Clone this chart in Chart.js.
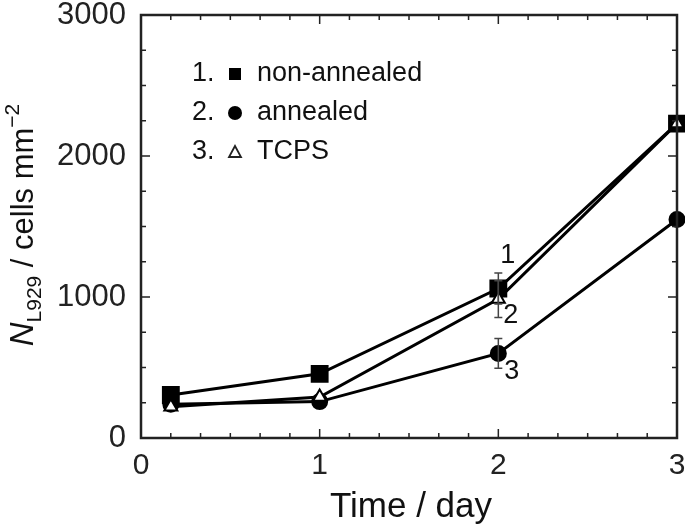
<!DOCTYPE html>
<html>
<head>
<meta charset="utf-8">
<script src="https://cdn.jsdelivr.net/npm/chart.js@4.4.1/dist/chart.umd.min.js"></script>
<style>
  html,body{margin:0;padding:0;background:#fff;overflow:hidden;}
  canvas{display:block;}
</style>
</head>
<body>
<canvas id="c" width="685" height="529" style="width:685px;height:529px"></canvas>
<script>
// time points (day)
const days = [0.167, 1, 2, 3];
// cell density, cells mm^-2
const nonAnnealed = [305, 455, 1060, 2230];
const annealed = [240, 258, 600, 1550];
const tcps = [222, 290, 985, 2230];
// error bars (+/-)
const errNon = [0, 0, 110, 0];
const errAnn = [0, 0, 105, 0];
const errTcps = [0, 0, 130, 0];

const legendRows = [
  { num: "1.", label: "non-annealed", mark: "square" },
  { num: "2.", label: "annealed", mark: "circle" },
  { num: "3.", label: "TCPS", mark: "triangle" }
];
const curveTags = ["1", "2", "3"];

const FONT = "Liberation Sans, Arial, sans-serif";
const toXY = arr => arr.map((v, i) => ({ x: days[i], y: v }));

const framePlugin = {
  id: "frame",
  afterDatasetsDraw(chart) {
    const { ctx, chartArea: a, scales: { x, y } } = chart;
    ctx.save();
    // error bars
    const errs = [errNon, errAnn, errTcps];
    ctx.strokeStyle = "#444";
    ctx.lineWidth = 1.5;
    chart.data.datasets.forEach((ds, di) => {
      ds.data.forEach((p, i) => {
        const e = errs[di][i];
        if (!e) return;
        const px = x.getPixelForValue(p.x);
        const top = y.getPixelForValue(p.y + e), bot = y.getPixelForValue(p.y - e);
        ctx.beginPath();
        ctx.moveTo(px, top); ctx.lineTo(px, bot);
        ctx.moveTo(px - 4, top); ctx.lineTo(px + 4, top);
        ctx.moveTo(px - 4, bot); ctx.lineTo(px + 4, bot);
        ctx.stroke();
      });
    });
    // frame
    ctx.strokeStyle = "#222";
    ctx.lineWidth = 2.5;
    ctx.strokeRect(a.left, a.top, a.right - a.left, a.bottom - a.top);
    // inward ticks
    ctx.lineWidth = 1.5;
    for (let v = 0; v <= 3000; v += 250) {
      const py = y.getPixelForValue(v);
      const len = v % 1000 === 0 ? 9 : 5;
      ctx.beginPath();
      ctx.moveTo(a.left, py); ctx.lineTo(a.left + len, py);
      ctx.moveTo(a.right, py); ctx.lineTo(a.right - len, py);
      ctx.stroke();
    }
    for (let k = 0; k <= 18; k++) {
      const px = x.getPixelForValue(k / 6);
      const len = k % 6 === 0 ? 9 : 5;
      ctx.beginPath();
      ctx.moveTo(px, a.bottom); ctx.lineTo(px, a.bottom - len);
      ctx.moveTo(px, a.top); ctx.lineTo(px, a.top + len);
      ctx.stroke();
    }
    // curve tags near day 2
    ctx.fillStyle = "#111";
    ctx.font = "27px " + FONT;
    ctx.textAlign = "left";
    ctx.textBaseline = "middle";
    const tagSrc = [nonAnnealed, tcps, annealed];
    const tagOff = [[2, -33], [5, 16], [6, 18]];
    tagSrc.forEach((arr, i) => {
      const px = x.getPixelForValue(days[2]) + tagOff[i][0];
      const py = y.getPixelForValue(arr[2]) + tagOff[i][1];
      ctx.fillText(curveTags[i], px, py);
    });
    // legend
    ctx.font = "27px " + FONT;
    legendRows.forEach((r, i) => {
      const yy = 74 + i * 39;
      ctx.fillStyle = "#111";
      ctx.fillText(r.num, 192, yy);
      const mx = 235;
      ctx.fillStyle = "#000";
      if (r.mark === "square") {
        ctx.fillRect(mx - 6, yy - 6, 12, 12);
      } else if (r.mark === "circle") {
        ctx.beginPath(); ctx.arc(mx, yy, 7, 0, Math.PI * 2); ctx.fill();
      } else {
        ctx.lineWidth = 1.8;
        ctx.beginPath();
        ctx.moveTo(mx, yy - 6); ctx.lineTo(mx + 6, yy + 5); ctx.lineTo(mx - 6, yy + 5); ctx.closePath();
        ctx.stroke();
      }
      ctx.fillStyle = "#111";
      ctx.fillText(r.label, 257, yy);
    });
    // axis titles
    ctx.textAlign = "center";
    ctx.textBaseline = "alphabetic";
    ctx.font = "35px " + FONT;
    ctx.fillText("Time / day", 411, 517);
    // rotated y title with sub/superscript
    ctx.translate(33, 225);
    ctx.rotate(-Math.PI / 2);
    const parts = [
      { t: "N", f: "italic 33px " + FONT, dy: 0 },
      { t: "L929", f: "21px " + FONT, dy: 8 },
      { t: " / cells mm", f: "31px " + FONT, dy: 0 },
      { t: "\u22122", f: "21px " + FONT, dy: -14 }
    ];
    let total = 0;
    parts.forEach(p => { ctx.font = p.f; p.w = ctx.measureText(p.t).width; total += p.w; });
    let cx = -total / 2;
    ctx.textAlign = "left";
    parts.forEach(p => { ctx.font = p.f; ctx.fillText(p.t, cx, p.dy); cx += p.w; });
    ctx.restore();
  }
};

const common = { borderColor: "#000", borderWidth: 3, pointBorderColor: "#000", showLine: true, tension: 0, clip: false };

new Chart(document.getElementById("c"), {
  type: "scatter",
  data: {
    datasets: [
      { ...common, label: "non-annealed", data: toXY(nonAnnealed), pointStyle: "rect", pointRadius: 10.5, pointBackgroundColor: "#000", order: 3 },
      { ...common, label: "annealed", data: toXY(annealed), pointStyle: "circle", pointRadius: 7, pointBackgroundColor: "#000", order: 2 },
      { ...common, label: "TCPS", data: toXY(tcps), pointStyle: "triangle", pointRadius: 7.5, pointBorderWidth: 2, pointBackgroundColor: "#fff", order: 1 }
    ]
  },
  options: {
    responsive: false,
    animation: false,
    layout: { autoPadding: false, padding: { top: 15, right: 8, left: 0, bottom: 0 } },
    plugins: { legend: { display: false }, tooltip: { enabled: false } },
    scales: {
      x: {
        type: "linear", min: 0, max: 3,
        grid: { display: false }, border: { display: false },
        ticks: { stepSize: 1, color: "#222", font: { size: 30, family: FONT }, padding: 2 },
        afterFit: s => { s.height = 91; s.paddingLeft = 0; s.paddingRight = 0; }
      },
      y: {
        min: 0, max: 3000,
        grid: { display: false }, border: { display: false },
        ticks: { stepSize: 1000, color: "#222", font: { size: 31, family: FONT }, padding: 7,
                 callback: v => String(v) },
        afterFit: s => { s.width = 141; s.paddingTop = 0; s.paddingBottom = 0; }
      }
    }
  },
  plugins: [framePlugin]
});
</script>
</body>
</html>
